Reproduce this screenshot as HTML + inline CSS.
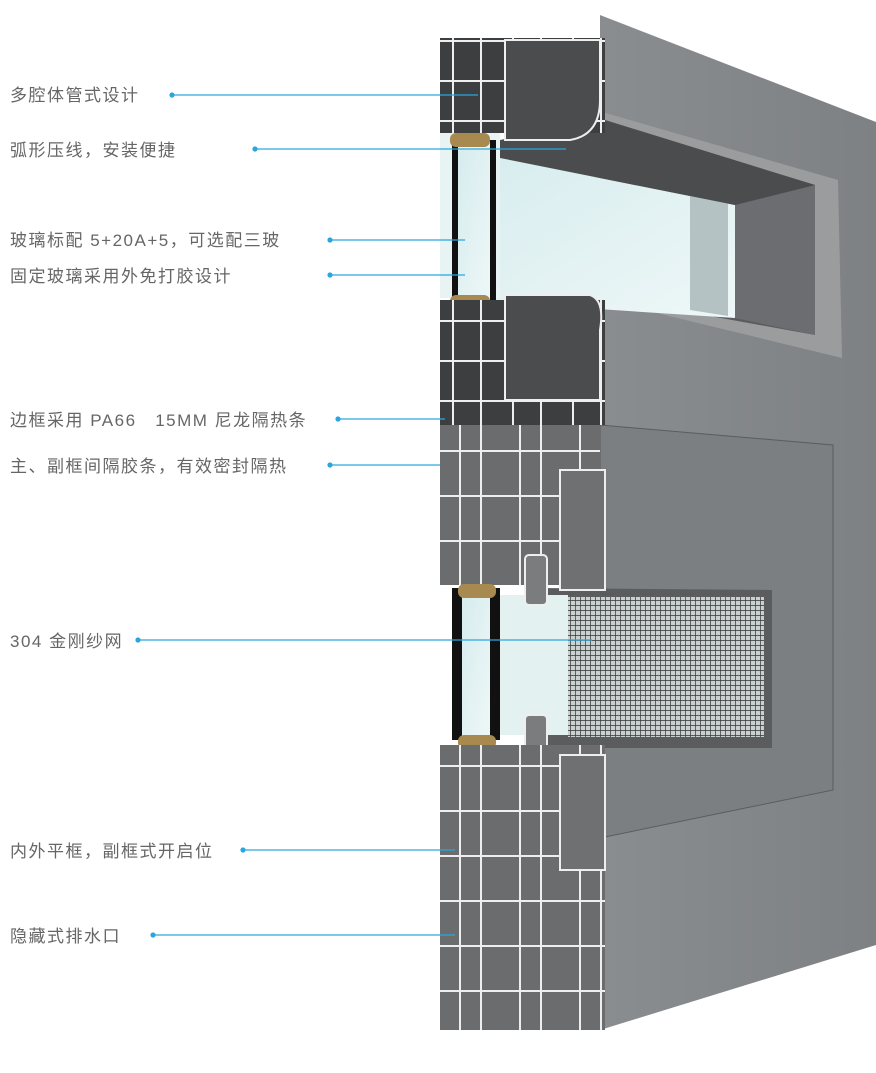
<!DOCTYPE html>
<html><head><meta charset="utf-8"><style>
body{margin:0;background:#fff;width:876px;height:1073px;overflow:hidden;font-family:"Liberation Sans","Noto Sans CJK SC",sans-serif}
svg{position:absolute;left:0;top:0}
.t{font-size:17px;fill:#666;letter-spacing:1.5px}
</style></head><body>
<svg width="876" height="1073" viewBox="0 0 876 1073">
<defs>
<linearGradient id="face" x1="0" y1="0" x2="1" y2="0"><stop offset="0" stop-color="#8a8d90"/><stop offset="1" stop-color="#7e8184"/></linearGradient>
<linearGradient id="glass" x1="0" y1="0" x2="1" y2="1"><stop offset="0" stop-color="#d6ecee"/><stop offset="1" stop-color="#eef7f7"/></linearGradient>
<pattern id="mesh" width="5" height="5" patternUnits="userSpaceOnUse"><rect width="5" height="5" fill="#c8d0d0"/><path d="M0 0H5M0 0V5" stroke="#333" stroke-width="1.4"/></pattern>
<pattern id="profD" width="60" height="40" patternUnits="userSpaceOnUse"><rect width="60" height="40" fill="#3c3e40"/><path d="M0 1H60M1 0V40M33 0V40" stroke="#eee" stroke-width="2" fill="none"/></pattern>
<pattern id="profL" width="60" height="45" patternUnits="userSpaceOnUse"><rect width="60" height="45" fill="#6a6c6e"/><path d="M0 1H60M1 0V45M40 0V45" stroke="#eee" stroke-width="2" fill="none"/></pattern>
</defs>
<polygon points="600,15 876,122 876,945 600,1030" fill="url(#face)"/>
<!-- upper glass recess -->
<polygon points="595,110 838,180 842,358 595,298" fill="#9a9c9e"/>
<polygon points="600,120 815,185 815,335 600,296" fill="#5a5c5e"/>
<polygon points="460,150 735,205 735,318 460,300" fill="url(#glass)"/>
<polygon points="690,195 728,203 728,316 690,310" fill="#b5c2c3"/>
<polygon points="735,205 815,185 815,335 735,318" fill="#6b6d70"/>
<polygon points="500,140 605,120 815,185 735,205 500,158" fill="#4a4c4e"/>
<!-- lower vent -->
<polygon points="600,425 833,445 833,790 600,838" fill="#7c7f82" stroke="#5a5c5e"/>
<polygon points="540,588 772,590 772,748 540,748" fill="#5a5c5e"/>
<rect x="498" y="595" width="70" height="140" fill="#e4f1f1"/>
<rect x="568" y="597" width="196" height="140" fill="url(#mesh)"/>
<!-- cross-section profiles -->
<rect x="440" y="38" width="165" height="95" fill="url(#profD)"/>
<path d="M505 40 H600 V100 Q600 135 570 140 H505Z" fill="#4a4c4e" stroke="#eee" stroke-width="2"/>
<rect x="440" y="133" width="60" height="165" fill="#e8f3f3"/>
<rect x="452" y="140" width="6" height="160" fill="#111"/>
<rect x="490" y="140" width="6" height="160" fill="#111"/>
<rect x="458" y="150" width="32" height="148" fill="url(#glass)"/>
<rect x="450" y="133" width="40" height="14" rx="6" fill="#a88a50"/>
<rect x="450" y="295" width="40" height="14" rx="6" fill="#a88a50"/>
<rect x="440" y="300" width="165" height="125" fill="url(#profD)"/>
<path d="M505 295 H590 Q605 300 600 330 V400 H505Z" fill="#4a4c4e" stroke="#eee" stroke-width="2"/>
<rect x="440" y="425" width="160" height="160" fill="url(#profL)"/>
<rect x="560" y="470" width="45" height="120" fill="#6e7072" stroke="#eee" stroke-width="2"/>
<rect x="525" y="555" width="22" height="50" rx="4" fill="#7a7c7e" stroke="#eee" stroke-width="2"/>
<rect x="452" y="588" width="10" height="152" fill="#111"/>
<rect x="490" y="588" width="10" height="152" fill="#111"/>
<rect x="462" y="595" width="28" height="140" fill="url(#glass)"/>
<rect x="458" y="584" width="38" height="14" rx="6" fill="#a88a50"/>
<rect x="458" y="735" width="38" height="14" rx="6" fill="#a88a50"/>
<rect x="525" y="715" width="22" height="55" rx="4" fill="#7a7c7e" stroke="#eee" stroke-width="2"/>
<rect x="440" y="745" width="165" height="135" fill="url(#profL)"/>
<rect x="560" y="755" width="45" height="115" fill="#6e7072" stroke="#eee" stroke-width="2"/>
<rect x="440" y="880" width="165" height="150" fill="url(#profL)"/>
<g stroke="#2aa6df" stroke-width="1.2" fill="#2aa6df">
<line x1="172" y1="95" x2="478" y2="95"/><circle cx="172" cy="95" r="2"/>
<line x1="255" y1="149" x2="566" y2="149"/><circle cx="255" cy="149" r="2"/>
<line x1="330" y1="240" x2="465" y2="240"/><circle cx="330" cy="240" r="2"/>
<line x1="330" y1="275" x2="465" y2="275"/><circle cx="330" cy="275" r="2"/>
<line x1="338" y1="419" x2="445" y2="419"/><circle cx="338" cy="419" r="2"/>
<line x1="330" y1="465" x2="440" y2="465"/><circle cx="330" cy="465" r="2"/>
<line x1="138" y1="640" x2="592" y2="640"/><circle cx="138" cy="640" r="2"/>
<line x1="243" y1="850" x2="455" y2="850"/><circle cx="243" cy="850" r="2"/>
<line x1="153" y1="935" x2="455" y2="935"/><circle cx="153" cy="935" r="2"/>
</g>
<text class="t" x="10" y="101">多腔体管式设计</text>
<text class="t" x="10" y="156">弧形压线，安装便捷</text>
<text class="t" x="10" y="246">玻璃标配 5+20A+5，可选配三玻</text>
<text class="t" x="10" y="282">固定玻璃采用外免打胶设计</text>
<text class="t" x="10" y="426" xml:space="preserve">边框采用 PA66   15MM 尼龙隔热条</text>
<text class="t" x="10" y="472">主、副框间隔胶条，有效密封隔热</text>
<text class="t" x="10" y="647">304 金刚纱网</text>
<text class="t" x="10" y="857">内外平框，副框式开启位</text>
<text class="t" x="10" y="942">隐藏式排水口</text>
</svg>
</body></html>
